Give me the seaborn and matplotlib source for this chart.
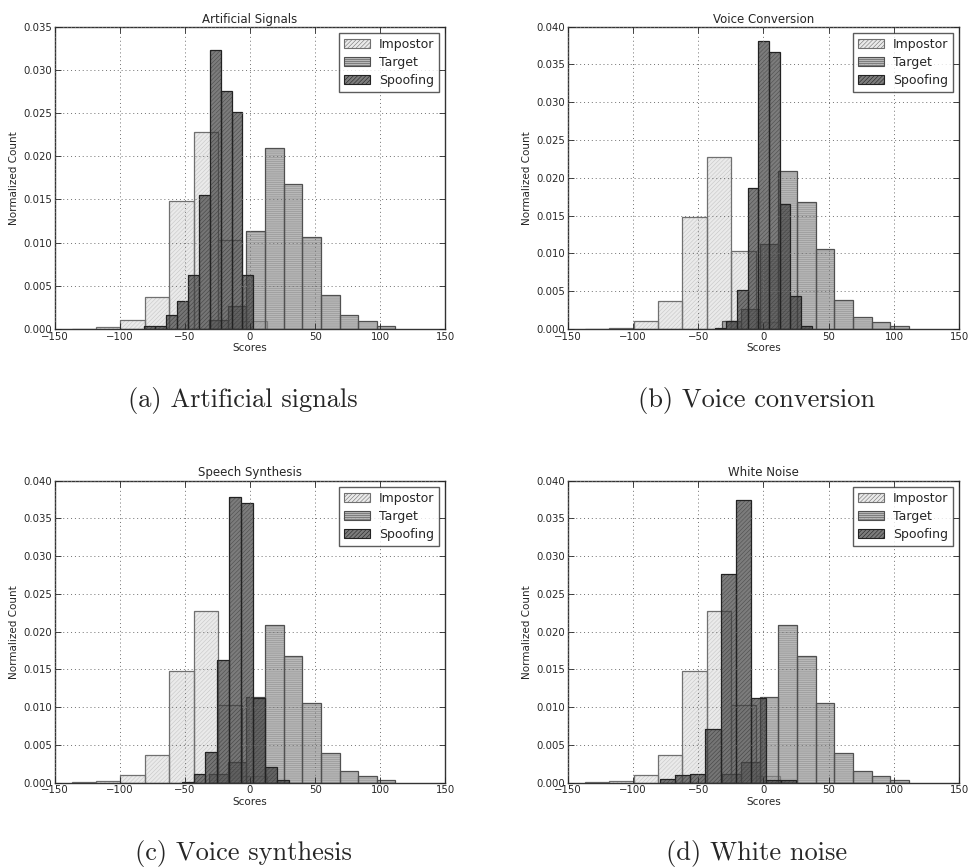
import numpy as np
import pandas as pd
import matplotlib
matplotlib.use("Agg")
import matplotlib.pyplot as plt
from matplotlib.colors import to_rgba
from matplotlib.patches import Patch
from matplotlib.ticker import FormatStrFormatter
import seaborn as sns

# 점수 히스토그램 데이터
impostor_edges = [-136.9, -118.2, -99.5, -80.8, -62.1, -43.4, -24.7, -6.0, 12.7]
impostor_heights = [0.00005, 0.0002, 0.0010, 0.0037, 0.0148, 0.0228, 0.0103, 0.0009]

target_edges = [-31.4, -17.1, -2.8, 11.5, 25.8, 40.1, 54.4, 68.7, 83.0, 97.3, 111.6]
target_heights = [0.0011, 0.0027, 0.0113, 0.0209, 0.0168, 0.0106, 0.0039, 0.0016, 0.0009, 0.0004]

spoof_a_edges = [-81.1, -72.7, -64.4, -56.0, -47.6, -39.3, -30.9, -22.5, -14.2, -5.8, 2.6]
spoof_a_heights = [0.0004, 0.0004, 0.0016, 0.0032, 0.0063, 0.0155, 0.0323, 0.0275, 0.0251, 0.0063]

spoof_b_edges = [-36.9, -28.7, -20.5, -12.2, -4.0, 4.2, 12.4, 20.7, 28.9, 37.1]
spoof_b_heights = [0.0002, 0.0011, 0.0052, 0.0186, 0.0381, 0.0367, 0.0165, 0.0044, 0.0004]

spoof_c_edges = [-52.5, -43.4, -34.2, -25.1, -15.9, -6.8, 2.4, 11.5, 20.7, 29.8]
spoof_c_heights = [0.0001, 0.0012, 0.0041, 0.0162, 0.0379, 0.0370, 0.0112, 0.0021, 0.0004]

spoof_d_edges = [-79.0, -67.5, -56.0, -44.4, -32.9, -21.4, -9.9, 1.7, 13.2, 24.7]
spoof_d_heights = [0.0005, 0.0010, 0.0011, 0.0071, 0.0276, 0.0374, 0.0112, 0.0003, 0.0003]

titles = ["Artificial Signals", "Voice Conversion", "Speech Synthesis", "White Noise"]
captions = ["(a) Artificial signals", "(b) Voice conversion",
            "(c) Voice synthesis", "(d) White noise"]
ymaxes = [0.035, 0.040, 0.040, 0.040]
legend_labels = ["Impostor", "Target", "Spoofing"]

sns.set_style("white")
plt.rcParams["font.family"] = ["DejaVu Sans"]
plt.rcParams["hatch.linewidth"] = 0.4

# 시리즈별 스타일: 채움색, 해치색, 테두리색 (반투명)
styles = [
    dict(fill="#dadada", hatchc="#a8a8a8", hatch="////////", edge="#707070", alpha=0.55),
    dict(fill="#8a8a8a", hatchc="#747474", hatch="--------", edge="#505050", alpha=0.6),
    dict(fill="#3e3e3e", hatchc="#363636", hatch="////////", edge="#222222", alpha=0.68),
]

fig = plt.figure(figsize=(9.68, 8.67), dpi=100)
positions = [
    [0.0565, 0.6205, 0.4036, 0.3487],
    [0.5864, 0.6205, 0.4046, 0.3487],
    [0.0565, 0.0973, 0.4036, 0.3483],
    [0.5864, 0.0973, 0.4046, 0.3483],
]
spoofs = [(spoof_a_edges, spoof_a_heights), (spoof_b_edges, spoof_b_heights),
          (spoof_c_edges, spoof_c_heights), (spoof_d_edges, spoof_d_heights)]


def draw_hist(ax, edges, heights, s):
    e = np.asarray(edges, dtype=float)
    df = pd.DataFrame({"score": (e[:-1] + e[1:]) / 2, "w": heights})
    # 채움 + 해치 (seaborn이 color에 alpha 적용)
    sns.histplot(data=df, x="score", weights="w", bins=list(edges), ax=ax, stat="count",
                 element="bars", color=s["fill"], alpha=s["alpha"],
                 edgecolor=to_rgba(s["hatchc"], s["alpha"]),
                 hatch=s["hatch"], linewidth=0)
    # 테두리
    sns.histplot(data=df, x="score", weights="w", bins=list(edges), ax=ax, stat="count",
                 element="bars", fill=False, color=to_rgba(s["edge"], 0.75), linewidth=0.9)


for i in range(4):
    ax = fig.add_axes(positions[i])
    series = [(impostor_edges, impostor_heights), (target_edges, target_heights), spoofs[i]]
    for (edges, heights), s in zip(series, styles):
        draw_hist(ax, edges, heights, s)

    ax.set_xlim(-150, 150)
    ax.set_ylim(0, ymaxes[i])
    ax.set_xticks([-150, -100, -50, 0, 50, 100, 150])
    ax.set_yticks(np.arange(0, ymaxes[i] + 1e-9, 0.005))
    ax.yaxis.set_major_formatter(FormatStrFormatter("%.3f"))
    ax.tick_params(direction="in", length=4, width=0.6, labelsize=7.3, pad=2,
                   top=True, right=True, bottom=True, left=True)
    ax.grid(True, linestyle=(0, (1, 3)), color="#707070", linewidth=0.7)
    ax.set_axisbelow(False)
    for sp in ax.spines.values():
        sp.set_color("#333333")
        sp.set_linewidth(1.0)

    ax.set_title(titles[i], fontsize=8.5, pad=3)
    ax.set_xlabel("Scores", fontsize=7.5, labelpad=1)
    ax.set_ylabel("Normalized Count", fontsize=7.5, labelpad=3)

    handles = [Patch(facecolor=to_rgba(s["fill"], s["alpha"]), edgecolor=s["edge"],
                     hatch=s["hatch"], linewidth=0.8) for s in styles]
    leg = ax.legend(handles, legend_labels, loc="upper right", fontsize=9,
                    fancybox=False, frameon=True, borderaxespad=0.5,
                    handlelength=2.1, handletextpad=0.7, labelspacing=0.4)
    leg.get_frame().set_edgecolor("#333333")
    leg.get_frame().set_linewidth(1.0)

    # 부제목 (서브 캡션)
    x0, y0, w, h = positions[i]
    fig.text(x0 + w / 2 - 0.007, y0 - 0.082, captions[i], ha="center", va="center",
             fontsize=19, family="cmr10")

fig.savefig("out.png", dpi=100)
